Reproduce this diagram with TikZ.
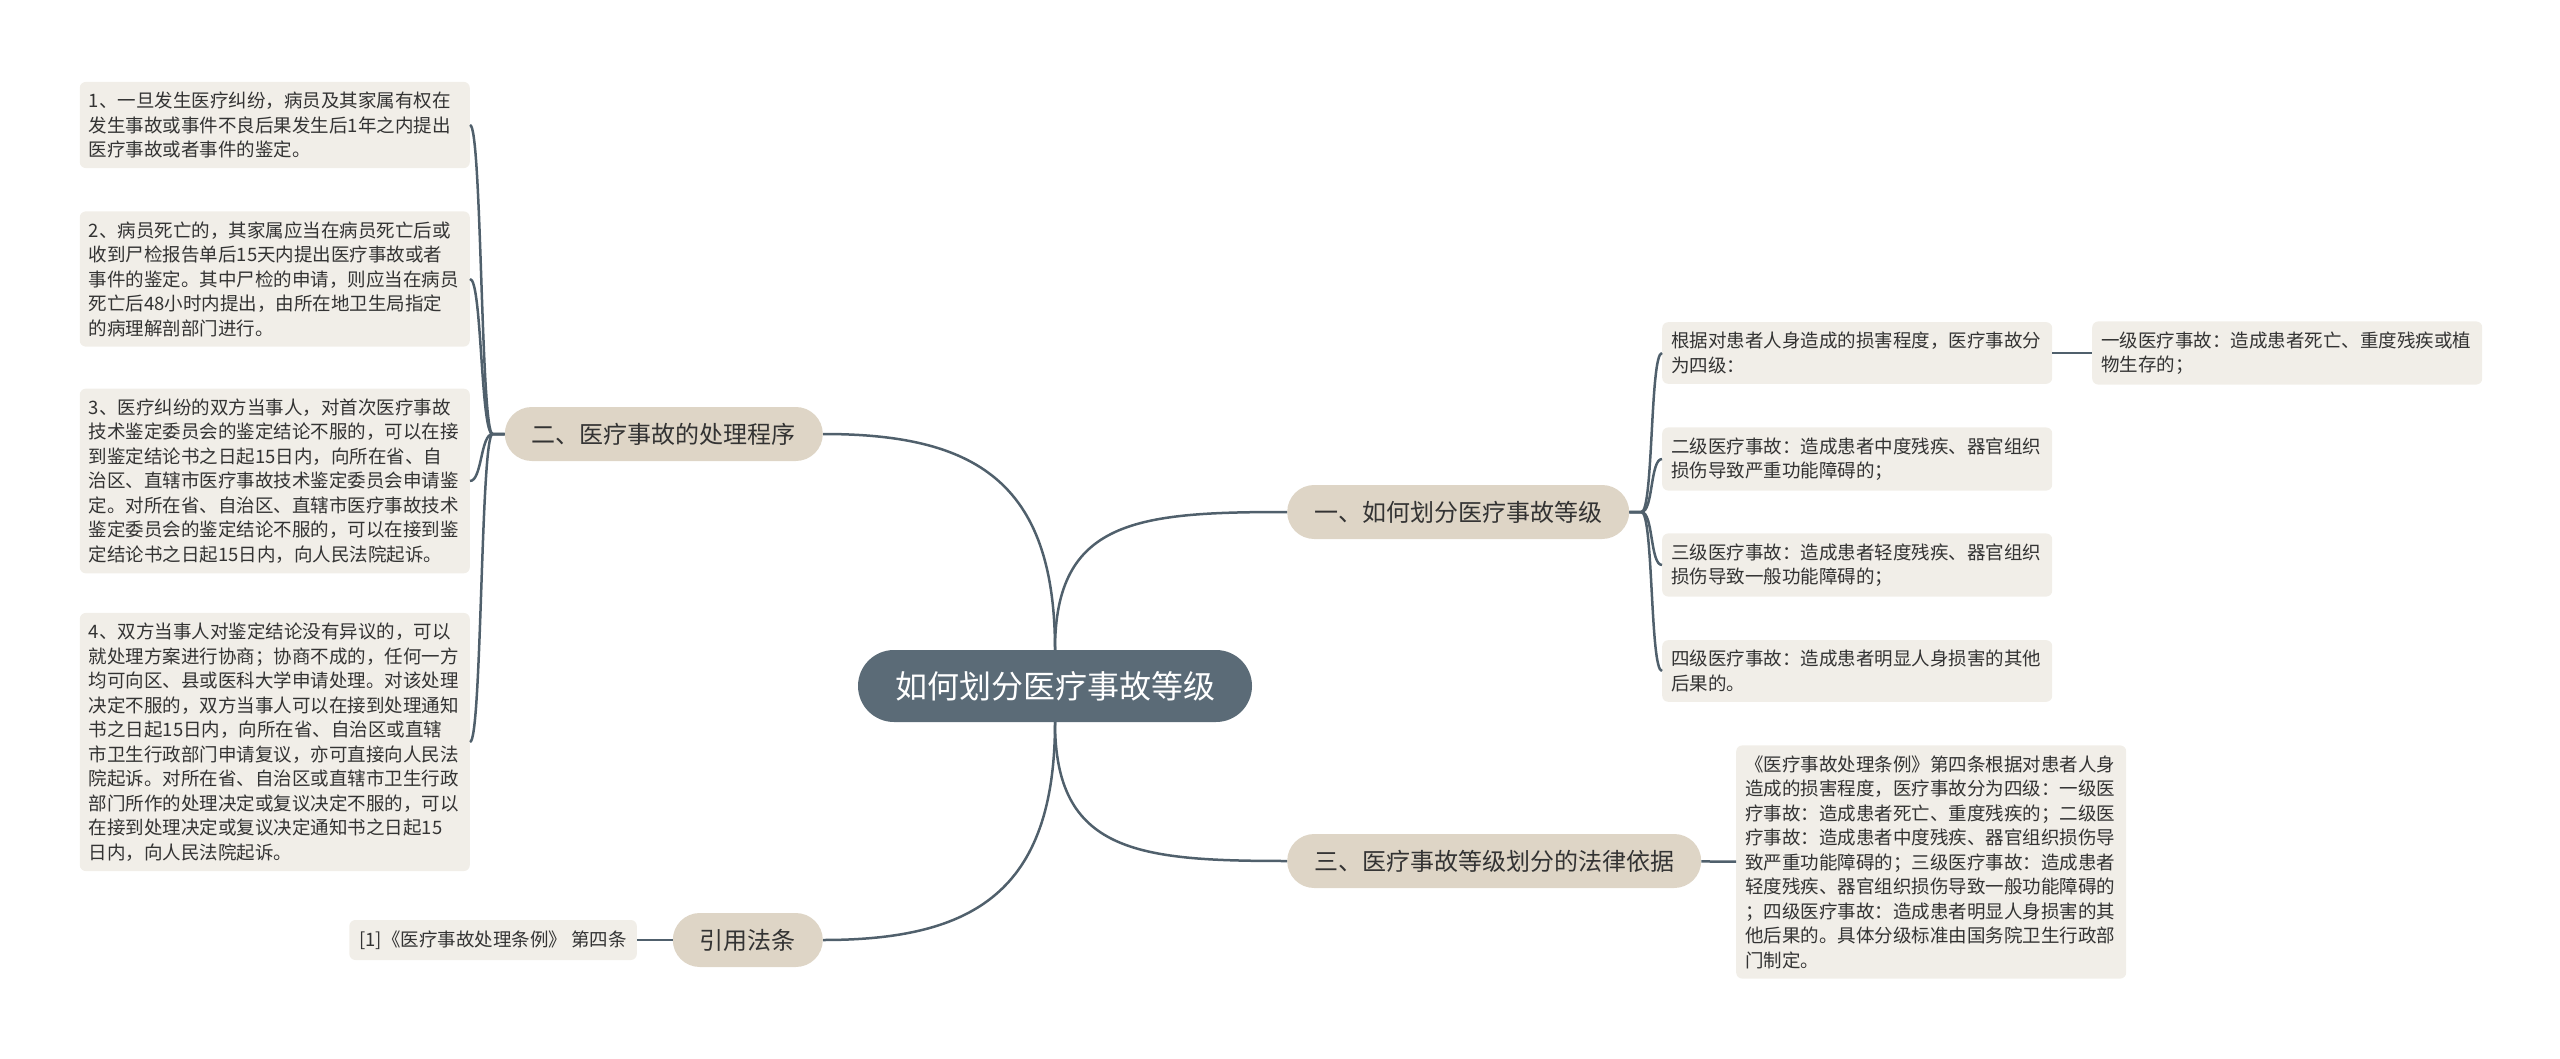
\documentclass[tikz,border=0pt]{standalone}
\usepackage{fontspec}
\setmainfont{Noto Sans CJK SC}

\definecolor{rootbg}{HTML}{5B6B77}
\definecolor{branchbg}{HTML}{DED5C6}
\definecolor{leafbg}{HTML}{F1EEE8}
\definecolor{linkc}{HTML}{50606C}
\definecolor{txt}{HTML}{333333}

\begin{document}
\begin{tikzpicture}[x=1pt, y=-1pt, every node/.style={text=txt},
	root/.style={fill=rootbg, text=white, rounded corners=36pt, minimum height=72pt, inner xsep=37pt, font=\fontsize{32}{36}\selectfont},
	branch/.style={fill=branchbg, rounded corners=27pt, minimum height=54pt, inner xsep=27pt, font=\fontsize{24}{28}\selectfont},
	leaf/.style={fill=leafbg, rounded corners=6pt, align=left, text width=372pt, inner xsep=9pt, inner ysep=10pt, font=\fontsize{18.5}{24.5}\selectfont},
	reff/.style={fill=leafbg, rounded corners=6pt, minimum height=40pt, inner xsep=10pt, font=\fontsize{18.5}{24.5}\selectfont},
	link/.style={draw=linkc, line width=2.5pt}]
	\useasboundingbox (0,0) rectangle (2560,1059);

	\node[root] (root) at (1055,686) {如何划分医疗事故等级};
	\node[branch, anchor=west] (b1) at (1287,512) {一、如何划分医疗事故等级};
	\node[branch, anchor=east] (b2) at (823,434) {二、医疗事故的处理程序};
	\node[branch, anchor=west] (b3) at (1287,861) {三、医疗事故等级划分的法律依据};
	\node[branch, anchor=east] (b4) at (823,940) {引用法条};

	\node[leaf, anchor=east] (p1) at (470,125) {1、一旦发生医疗纠纷，病员及其家属有权在\\发生事故或事件不良后果发生后1年之内提出\\医疗事故或者事件的鉴定。};
	\node[leaf, anchor=east] (p2) at (470,279) {2、病员死亡的，其家属应当在病员死亡后或\\收到尸检报告单后15天内提出医疗事故或者\\事件的鉴定。其中尸检的申请，则应当在病员\\死亡后48小时内提出，由所在地卫生局指定\\的病理解剖部门进行。};
	\node[leaf, anchor=east] (p3) at (470,481) {3、医疗纠纷的双方当事人，对首次医疗事故\\技术鉴定委员会的鉴定结论不服的，可以在接\\到鉴定结论书之日起15日内，向所在省、自\\治区、直辖市医疗事故技术鉴定委员会申请鉴\\定。对所在省、自治区、直辖市医疗事故技术\\鉴定委员会的鉴定结论不服的，可以在接到鉴\\定结论书之日起15日内，向人民法院起诉。};
	\node[leaf, anchor=east] (p4) at (470,742) {4、双方当事人对鉴定结论没有异议的，可以\\就处理方案进行协商；协商不成的，任何一方\\均可向区、县或医科大学申请处理。对该处理\\决定不服的，双方当事人可以在接到处理通知\\书之日起15日内，向所在省、自治区或直辖\\市卫生行政部门申请复议，亦可直接向人民法\\院起诉。对所在省、自治区或直辖市卫生行政\\部门所作的处理决定或复议决定不服的，可以\\在接到处理决定或复议决定通知书之日起15\\日内，向人民法院起诉。};
	\node[reff, anchor=east] (ref) at (637,940) {[1]《医疗事故处理条例》 第四条};

	\node[leaf, anchor=west] (g0) at (1662,353) {根据对患者人身造成的损害程度，医疗事故分\\为四级：};
	\node[leaf, anchor=west] (g1) at (2092,353) {一级医疗事故：造成患者死亡、重度残疾或植\\物生存的；};
	\node[leaf, anchor=west] (g2) at (1662,459) {二级医疗事故：造成患者中度残疾、器官组织\\损伤导致严重功能障碍的；};
	\node[leaf, anchor=west] (g3) at (1662,565) {三级医疗事故：造成患者轻度残疾、器官组织\\损伤导致一般功能障碍的；};
	\node[leaf, anchor=west] (g4) at (1662,671) {四级医疗事故：造成患者明显人身损害的其他\\后果的。};
	\node[leaf, anchor=west] (law) at (1736,862) {《医疗事故处理条例》第四条根据对患者人身\\造成的损害程度，医疗事故分为四级：一级医\\疗事故：造成患者死亡、重度残疾的；二级医\\疗事故：造成患者中度残疾、器官组织损伤导\\致严重功能障碍的；三级医疗事故：造成患者\\轻度残疾、器官组织损伤导致一般功能障碍的\\；四级医疗事故：造成患者明显人身损害的其\\他后果的。具体分级标准由国务院卫生行政部\\门制定。};

	\draw[link] (root.north) .. controls +(0,-170) and +(150,0) .. (b2.east);
	\draw[link] (root.north) .. controls +(0,-130) and +(-150,0) .. (b1.west);
	\draw[link] (root.south) .. controls +(0,130) and +(-150,0) .. (b3.west);
	\draw[link] (root.south) .. controls +(0,170) and +(150,0) .. (b4.east);
	\foreach \n in {p1,p2,p3,p4}
		\draw[link] (b2.west) -- ++(-12,0) .. controls +(-12,0) and +(12,0) .. (\n.east);
	\foreach \n in {g0,g2,g3,g4}
		\draw[link] (b1.east) -- ++(12,0) .. controls +(12,0) and +(-12,0) .. (\n.west);
	\draw[link] (g0) -- (g1);
	\draw[link] (b3) -- (law);
	\draw[link] (b4) -- (ref);
\end{tikzpicture}
\end{document}
